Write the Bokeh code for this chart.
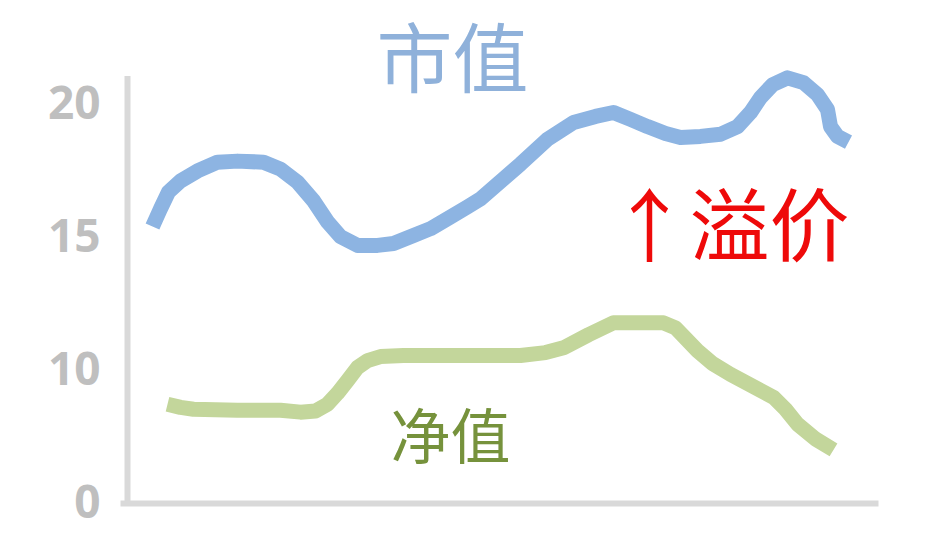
from bokeh.plotting import figure
from bokeh.models import Range1d, FixedTicker, Label
from bokeh.embed import file_html
from bokeh.resources import INLINE

# ---- data (x = time index, y = value on the chart's apparent scale; tick "0" sits at 5) ----
mv_x = [2.5, 3.3, 4.1, 5.3, 7.0, 9.0, 11.0, 13.6, 15.3, 17.0, 18.6, 20.0, 21.3, 23.0, 25.0,
        26.6, 28.6, 30.3, 32.0, 34.0, 35.3, 37.6, 39.3, 42.0, 44.6, 46.8, 48.6, 50.3, 52.0,
        53.8, 55.3, 57.3, 59.3, 61.0, 62.3, 63.3, 64.5, 66.0, 67.6, 69.0, 70.0, 70.3, 71.0,
        72.1]
mv_y = [15.34, 16.01, 16.64, 17.05, 17.43, 17.76, 17.80, 17.76, 17.50, 17.01, 16.31, 15.52,
        14.96, 14.63, 14.63, 14.70, 15.00, 15.26, 15.63, 16.08, 16.38, 17.13, 17.69, 18.62,
        19.25, 19.48, 19.63, 19.37, 19.10, 18.84, 18.69, 18.73, 18.81, 19.10, 19.63, 20.19,
        20.67, 20.93, 20.75, 20.30, 19.74, 19.10, 18.73, 18.51]

nav_x = [4.0, 5.3, 6.6, 11.0, 15.3, 17.3, 18.8, 20.0, 21.0, 22.0, 23.0, 24.0, 25.3, 27.6,
         32.6, 39.3, 41.8, 43.6, 46.1, 48.6, 53.6, 54.8, 57.0, 58.5, 60.3, 64.6, 65.8, 67.0,
         68.8, 70.6]
nav_y = [8.66, 8.54, 8.47, 8.43, 8.43, 8.36, 8.40, 8.66, 9.07, 9.55, 10.04, 10.30, 10.45,
         10.49, 10.49, 10.49, 10.60, 10.78, 11.27, 11.72, 11.72, 11.53, 10.67, 10.19, 9.78,
         8.92, 8.47, 7.91, 7.35, 6.94]

y_ticks = [5, 10, 15, 20]
y_tick_labels = ["0", "10", "15", "20"]
y_axis_top = 21.0

title_text = "市值"
nav_text = "净值"
premium_text = "↑溢价"

CJK = "Noto Sans CJK SC"
AXIS_GRAY = "#D9D9D9"

p = figure(width=940, height=530, output_backend="svg", toolbar_location=None,
           x_range=Range1d(-0.7, 75.1), y_range=Range1d(4.925, 23.84),
           min_border_left=120, min_border_right=62, min_border_top=0, min_border_bottom=27)
p.outline_line_color = None
p.grid.visible = False
p.background_fill_color = "white"
p.border_fill_color = "white"

# y axis: labels only, line drawn as a segment so it stops below the title
p.yaxis.ticker = FixedTicker(ticks=y_ticks)
p.yaxis.major_label_overrides = {t: l for t, l in zip(y_ticks, y_tick_labels)}
p.yaxis.axis_line_color = None
p.yaxis.major_tick_line_color = None
p.yaxis.minor_tick_line_color = None
p.yaxis.major_tick_out = 0
p.yaxis.major_label_standoff = 20
p.yaxis.major_label_text_font = "Open Sans"
p.yaxis.major_label_text_font_style = "bold"
p.yaxis.major_label_text_font_size = "46px"
p.yaxis.major_label_text_color = "#BFBFBF"

# x axis: line only
p.xaxis.axis_line_color = AXIS_GRAY
p.xaxis.axis_line_width = 6
p.xaxis.major_tick_line_color = None
p.xaxis.minor_tick_line_color = None
p.xaxis.major_tick_out = 0
p.xaxis.major_label_text_font_size = "0px"
p.xaxis.major_label_text_color = None

p.segment(x0=[0], y0=[4.85], x1=[0], y1=[y_axis_top], line_color=AXIS_GRAY, line_width=6)

p.line(mv_x, mv_y, line_color="#8DB4E2", line_width=15, line_cap="butt", line_join="round")
p.line(nav_x, nav_y, line_color="#C3D69B", line_width=15, line_cap="butt", line_join="round")

p.add_layout(Label(x=32.5, y=21.83, text=title_text, text_font=CJK, text_font_size="76px",
                   text_color="#8FB1DA", text_align="center", text_baseline="middle"))
p.add_layout(Label(x=32.3, y=7.61, text=nav_text, text_font=CJK, text_font_size="60px",
                   text_color="#76923C", text_align="center", text_baseline="middle"))
p.add_layout(Label(x=60.2, y=15.58, text=premium_text, text_font=CJK, text_font_size="80px",
                   text_color="#EE0A0A", text_align="center", text_baseline="middle"))

open("out.html", "w").write(file_html(p, INLINE))
